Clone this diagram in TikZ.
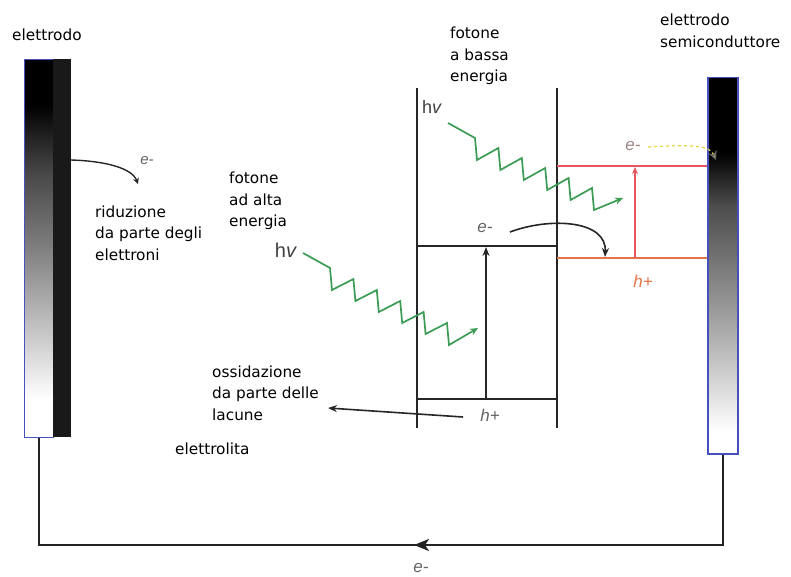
\documentclass[tikz,border=0pt]{standalone}
\usepackage{fontspec}
\setmainfont{DejaVu Sans}
\newfontfamily\itfont{Liberation Sans}
\usetikzlibrary{arrows.meta}
\definecolor{phot}{RGB}{60,155,85}
\definecolor{elblue}{RGB}{70,80,190}
\definecolor{redband}{RGB}{232,85,95}
\definecolor{orband}{RGB}{228,115,70}
\definecolor{yel}{RGB}{225,215,70}
\definecolor{txtgray}{RGB}{100,100,100}
\definecolor{pinkgray}{RGB}{160,130,130}
\definecolor{wire}{RGB}{35,35,35}
\pgfdeclareverticalshading{leftel}{100bp}{color(0bp)=(white); color(25bp)=(white); color(30bp)=(white); color(40bp)=(black!25); color(50bp)=(black!50); color(60bp)=(black!72); color(69bp)=(black); color(75bp)=(black); color(100bp)=(black)}
\pgfdeclareverticalshading{rightel}{100bp}{color(0bp)=(white); color(25bp)=(white); color(28bp)=(white); color(40bp)=(black!30); color(51bp)=(black!55); color(58bp)=(black!70); color(65bp)=(black); color(75bp)=(black); color(100bp)=(black)}
\begin{document}
\begin{tikzpicture}[x=1pt,y=-1pt,
  lbl/.style={anchor=west,align=left,inner sep=0pt,font=\fontsize{15.3}{21.5}\selectfont},
  ital/.style={inner sep=0pt,text=txtgray,font=\itfont\itshape\fontsize{17}{20}\selectfont},
  hvlbl/.style={inner sep=0pt,text=black!75,font=\itfont\fontsize{18}{20}\selectfont},
  band/.style={line width=1.8pt,black!85},
  photon/.style={line width=1.7pt,phot,line join=miter,-{Stealth[length=8pt,width=7pt]}},
  blkarrow/.style={line width=1.6pt,black!85,-{Stealth[length=9pt,width=7pt]}},
  wireline/.style={line width=2.2pt,wire}]
\useasboundingbox (0,0) rectangle (791,577);

% electrodes
\node[anchor=north west,inner sep=0pt,minimum width=29pt,minimum height=378pt,shade,shading=leftel,draw=elblue,line width=1pt] (elL) at (24,59) {};
\node[anchor=north west,inner sep=0pt,minimum width=18pt,minimum height=378pt,fill=black!90] (elLb) at (53,59) {};
\node[anchor=north west,inner sep=0pt,minimum width=30pt,minimum height=376pt,shade,shading=rightel,draw=elblue,line width=1.5pt] (elR) at (707,77) {};

% labels
\node[lbl] (tElL) at (12,35) {elettrodo};
\node[lbl] (tElR) at (660,31) {elettrodo\\semiconduttore};
\node[lbl] (tFb) at (450,56) {fotone\\a bassa\\energia};
\node[lbl] (tFa) at (229,201) {fotone\\ad alta\\energia};
\node[lbl] (tRid) at (95,233) {riduzione\\da parte degli\\elettroni};
\node[lbl] (tOss) at (212,393) {ossidazione\\da parte delle\\lacune};
\node[lbl] (tElt) at (175,449) {elettrolita};

\node[ital,font=\itfont\itshape\fontsize{15}{18}\selectfont] (eL) at (147,161) {e-};
\node[ital] (eC) at (485,228) {e-};
\node[ital] (hC) at (490,415) {h+};
\node[ital,text=pinkgray] (eR) at (633,146) {e-};
\node[ital,text=orband] (hR) at (643,281) {h+};
\node[ital] (eB) at (421,568) {e-};
\node[hvlbl] (hv1) at (432,107) {h\textit{v}};
\node[hvlbl,font=\itfont\fontsize{20}{22}\selectfont] (hv2) at (286,250) {h\textit{v}};

% band structure
\coordinate (L1t) at (417,88); \coordinate (L1b) at (417,428);
\coordinate (L2t) at (557,88); \coordinate (L2b) at (557,428);
\coordinate (CBl) at (417,246); \coordinate (CBr) at (557,246);
\coordinate (VBl) at (417,399); \coordinate (VBr) at (557,399);
\draw[band] (L1t) -- (L1b);
\draw[band] (L2t) -- (L2b);
\draw[band] (CBl) -- (CBr);
\draw[band] (VBl) -- (VBr);
\coordinate (exB) at (486,399); \coordinate (exT) at (486,247);
\draw[blkarrow] (exB) -- (exT);

% semiconductor levels
\coordinate (RCl) at (557,166); \coordinate (RVl) at (557,258);
\draw[redband,line width=2pt] (RCl) -- (RCl -| elR.west);
\draw[orband,line width=1.8pt] (RVl) -- (RVl -| elR.west);
\coordinate (rexB) at (635,258); \coordinate (rexT) at (635,167);
\draw[redband,line width=1.6pt,-{Stealth[length=7pt,width=6pt]}] (rexB) -- (rexT);

% curved electron arrows
\coordinate (eCs) at (510,232); \coordinate (eCe) at (605,257);
\draw[blkarrow] (eCs) .. controls (550,217) and (607,220) .. (eCe);
\coordinate (eLs) at (71,160); \coordinate (eLe) at (138,184);
\draw[line width=1.4pt,black!85,-{Stealth[length=6pt,width=6pt]}] (eLs) .. controls (105,161) and (132,168) .. (eLe);
\coordinate (eRs) at (648,147); \coordinate (eRe) at (716,160);
\draw[yel,line width=1.3pt,dashed,-{Stealth[length=9pt,width=9pt,fill=yel,color=black!60]}] (eRs) .. controls (695,144) and (710,146) .. (eRe);

% oxidation arrow
\coordinate (hTail) at (463,417); \coordinate (ossTip) at (328,408);
\draw[blkarrow] (hTail) -- (ossTip);

% photons
\coordinate (p1s) at (448,123); \coordinate (p1e) at (623,198);
\draw[photon] (p1s) -- (475,138) \foreach \i in {1,...,5} { -- ++(2,22) -- ++(21.4,-12) } -- ++(2,22) -- (p1e);
\coordinate (p2s) at (303,253); \coordinate (p2e) at (478,328);
\draw[photon] (p2s) -- (330,268) \foreach \i in {1,...,5} { -- ++(2,22) -- ++(21.4,-11) } -- ++(2,22) -- (p2e);

% external circuit
\coordinate (cbL) at (elL.south |- 0,545);
\coordinate (cbR) at (elR.south |- 0,545);
\coordinate (cbM) at (414,545);
\draw[wireline] (elR.south) -- (cbR) -- (cbL) -- (elL.south);
\draw[wireline,-{Stealth[length=15pt,width=12pt,inset=4pt]}] (cbR) -- (cbM);
\end{tikzpicture}
\end{document}
